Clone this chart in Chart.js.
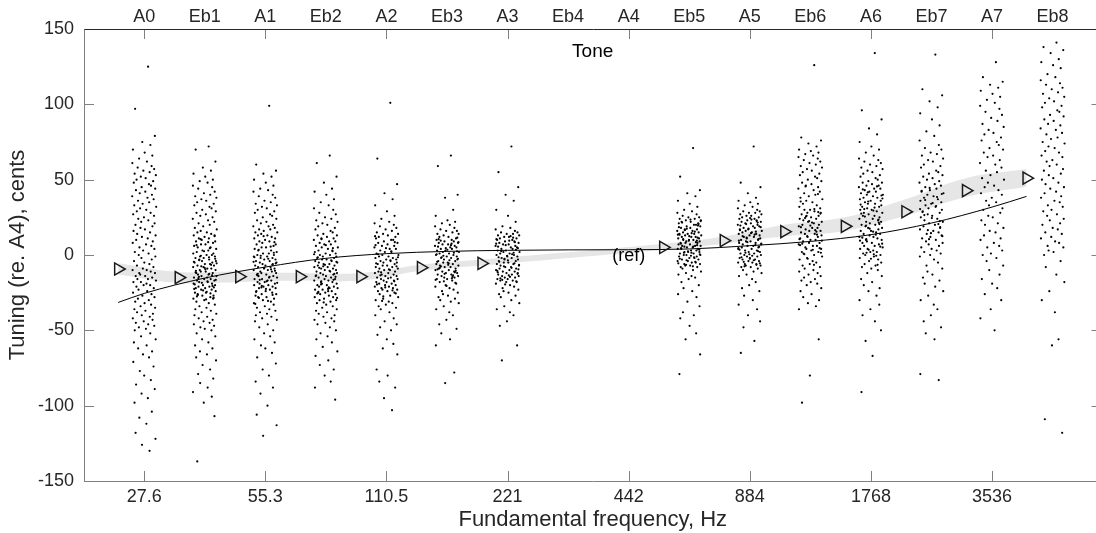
<!DOCTYPE html>
<html>
<head>
<meta charset="utf-8">
<script src="https://cdn.jsdelivr.net/npm/chart.js@4.4.1/dist/chart.umd.min.js"></script>
<style>
  html, body { margin: 0; padding: 0; background: #fff; overflow: hidden; }
  #wrap { width: 1110px; height: 533px; }
</style>
</head>
<body>
<div id="wrap"><canvas id="chart" width="1110" height="533"></canvas></div>
<script>
// Tuning of piano tones relative to A4 (442 Hz), in cents
const TONE_LABELS = ['A0', 'Eb1', 'A1', 'Eb2', 'A2', 'Eb3', 'A3', 'Eb4', 'A4', 'Eb5', 'A5', 'Eb6', 'A6', 'Eb7', 'A7', 'Eb8'];
const TONE_HZ = [27.625, 39.07, 55.25, 78.13, 110.5, 156.27, 221, 312.54, 442, 625.08, 884, 1250.2, 1768, 2500.3, 3536, 5000.6];
const TICK_HZ = [27.625, 55.25, 110.5, 221, 442, 884, 1768, 3536];
const TICK_LABELS = ['27.6', '55.3', '110.5', '221', '442', '884', '1768', '3536'];
const Y_TICKS = [-150, -100, -50, 0, 50, 100, 150];

// per-tone mean (triangles) and its band
const MEAN_TONES = ['A0', 'Eb1', 'A1', 'Eb2', 'A2', 'Eb3', 'A3', 'Eb5', 'A5', 'Eb6', 'A6', 'Eb7', 'A7', 'Eb8'];
const MEAN_CENTS = [-9.3, -15, -14.4, -14.4, -14.4, -8.4, -5.6, 5, 9.5, 15.5, 19, 28.7, 42.7, 51];
const BAND_LO = [-13, -18.6, -18, -17, -17, -10.5, -7, 3.5, 7.5, 12.4, 16, 26, 38.5, 45.3];
const BAND_HI = [-5.5, -11.3, -11, -12, -12, -6.5, -3, 7.5, 12.3, 20, 25, 37, 51, 57];

// fitted curve: start (A0 mean), A0..A7, end (Eb8 mean)
const FIT_CENTS = [-31.5, -25.5, -15.3, -8, -2.2, 0.9, 2.4, 3.1, 3.4, 3.5, 4, 6.2, 9, 13.5, 21.2, 31.8, 38.9];

// individual measurements, cents
const A0_CENTS = [125, 97, 79, 75, 73, 70, 68, 66, 64, 62, 61, 59, 58, 57, 56, 55, 54, 53, 52, 51, 50, 49, 48, 47, 46, 45, 44, 43, 42, 41, 40, 39, 38, 37, 36, 35, 34, 33, 32, 31, 30, 29, 28, 27, 26, 25, 24, 23, 22, 21, 20, 19, 18, 17, 16, 15, 14, 13, 12, 11, 10, 9, 8, 7, 6, 5, 4, 3, 2, 1, 0, -1, -2, -3, -4, -5, -6, -7, -8, -9, -10, -10, -11, -12, -12, -13, -14, -14, -15, -16, -16, -17, -18, -18, -19, -20, -20, -21, -22, -23, -24, -25, -26, -27, -28, -29, -30, -31, -32, -33, -34, -35, -36, -37, -38, -39, -40, -41, -42, -43, -44, -45, -46, -47, -48, -49, -50, -52, -54, -56, -58, -60, -62, -64, -66, -68, -71, -74, -77, -80, -83, -86, -89, -92, -95, -98, -104, -108, -112, -118, -122, -126, -130];
const EB1_CENTS = [72, 70, 62, 58, 56, 54, 52, 50, 49, 48, 46, 45, 44, 42, 41, 40, 39, 38, 37, 36, 35, 34, 33, 32, 31, 30, 29, 28, 27, 26, 25, 24, 23, 22, 21, 20, 19, 18, 17, 16, 15, 15, 14, 13, 13, 12, 11, 11, 10, 9, 9, 8, 7, 7, 6, 5, 5, 4, 3, 3, 2, 1, 1, 0, 0, -1, -1, -2, -2, -3, -3, -4, -4, -5, -5, -6, -6, -7, -7, -8, -8, -9, -9, -10, -10, -11, -11, -12, -12, -13, -13, -14, -14, -15, -15, -16, -16, -17, -17, -18, -18, -19, -19, -20, -20, -21, -21, -22, -22, -23, -23, -24, -25, -25, -26, -27, -27, -28, -29, -29, -30, -31, -32, -33, -34, -35, -36, -37, -38, -39, -40, -41, -42, -43, -44, -45, -46, -47, -48, -49, -50, -52, -54, -56, -58, -60, -62, -64, -66, -68, -70, -73, -76, -79, -82, -85, -88, -91, -94, -98, -107, -137,
  -1.5, -3.5, -5.5, -7.5, -9.5, -11.5, -13.5, -15.5, -17.5, -19.5, -21.5, -23.5, -25.5, -27.5, -29.5, -0.5, -2.5, -4.5, -6.5, -8.5, -10.5, -12.5, -14.5, -16.5, -18.5, -20.5, -22.5, -24.5, -26.5, -28.5, 2.5, 4.5, 6.5, 8.5, 10.5, 12.5];
const A1_CENTS = [99, 60, 56, 54, 52, 50, 48, 46, 44, 43, 42, 40, 39, 38, 36, 35, 34, 33, 32, 31, 30, 29, 28, 27, 26, 25, 24, 23, 22, 21, 20, 19, 19, 18, 17, 17, 16, 15, 15, 14, 13, 13, 12, 11, 11, 10, 9, 9, 8, 7, 7, 6, 5, 5, 4, 3, 3, 2, 1, 1, 0, 0, -1, -1, -2, -2, -3, -3, -4, -4, -5, -5, -6, -6, -7, -7, -8, -8, -9, -9, -10, -10, -11, -11, -12, -12, -13, -13, -14, -14, -15, -15, -16, -16, -17, -17, -18, -18, -19, -19, -20, -20, -21, -21, -22, -22, -23, -24, -24, -25, -26, -26, -27, -28, -28, -29, -30, -31, -32, -33, -34, -35, -36, -37, -38, -39, -40, -41, -42, -43, -44, -46, -48, -50, -52, -54, -56, -58, -60, -62, -65, -68, -72, -76, -80, -84, -88, -92, -100, -106, -113, -120,
  5.5, 3.5, 1.5, -0.5, -2.5, -4.5, -6.5, -8.5, -10.5, -12.5, -14.5, -16.5, -18.5, -20.5, -22.5, -24.5, -26.5, -28.5, -30.5, -32.5, 8.5, 12.5, -9.5, -13.5, -17.5, -21.5, -5.5, -1.5];
const EB2_CENTS = [66, 61, 52, 48, 44, 42, 40, 37, 35, 33, 31, 30, 28, 27, 25, 24, 23, 22, 21, 20, 19, 18, 17, 16, 15, 14, 13, 13, 12, 11, 11, 10, 9, 9, 8, 7, 7, 6, 5, 5, 4, 3, 3, 2, 1, 1, 0, 0, -1, -1, -2, -2, -3, -3, -4, -4, -5, -5, -6, -6, -7, -7, -8, -8, -9, -9, -10, -10, -11, -11, -12, -12, -13, -13, -14, -14, -15, -15, -16, -16, -17, -17, -18, -18, -19, -19, -20, -20, -21, -21, -22, -22, -23, -23, -24, -24, -25, -25, -26, -26, -27, -28, -28, -29, -30, -30, -31, -32, -33, -34, -35, -36, -37, -38, -39, -40, -41, -42, -43, -44, -45, -46, -48, -50, -52, -54, -56, -58, -61, -64, -67, -70, -73, -76, -80, -84, -88, -96,
  10.5, 6.5, 2.5, -1.5, -4.5, -7.5, -10.5, -13.5, -16.5, -19.5, -22.5, -25.5, -28.5, -31.5, -3.5, -8.5, -12.5, -17.5, -21.5, 0.5, 4.5, -6.5, -14.5, -24.5];
const A2_CENTS = [101, 64, 47, 41, 37, 33, 29, 26, 24, 22, 21, 20, 19, 18, 17, 16, 15, 14, 14, 13, 12, 12, 11, 10, 10, 9, 8, 8, 7, 6, 6, 5, 4, 4, 3, 2, 2, 1, 0, 0, -1, -1, -2, -2, -3, -3, -4, -4, -5, -5, -6, -6, -7, -7, -8, -8, -9, -9, -10, -10, -11, -11, -12, -12, -13, -13, -14, -14, -15, -15, -16, -16, -17, -17, -18, -18, -19, -19, -20, -20, -21, -21, -22, -22, -23, -23, -24, -24, -25, -26, -27, -28, -29, -30, -31, -32, -33, -34, -35, -36, -38, -40, -42, -44, -46, -48, -50, -53, -56, -59, -62, -66, -76, -80, -84, -88, -95, -103,
  12.5, 8.5, 4.5, 0.5, -3.5, -7.5, -11.5, -15.5, -19.5, -23.5, -27.5, -1.5, -5.5, -9.5, -13.5, -17.5, -21.5, 2.5, 6.5, -25.5, -30.5];
const EB3_CENTS = [66, 59, 40, 38, 30, 26, 23, 22, 21, 20, 19, 18, 17, 16, 16, 15, 14, 14, 13, 12, 12, 11, 10, 10, 9, 9, 8, 8, 7, 7, 6, 6, 5, 5, 4, 4, 3, 3, 2, 2, 1, 1, 0, 0, -1, -1, -2, -2, -3, -3, -4, -4, -5, -5, -6, -6, -7, -7, -8, -8, -9, -9, -10, -10, -11, -11, -12, -12, -13, -13, -14, -14, -15, -15, -16, -16, -17, -18, -19, -20, -21, -22, -23, -24, -25, -26, -27, -28, -29, -30, -31, -32, -34, -36, -38, -40, -43, -46, -49, -52, -56, -60, -78, -85,
  11.5, 9.5, 7.5, 5.5, 3.5, 1.5, -0.5, -2.5, -4.5, -6.5, -8.5, -10.5, -12.5, -14.5, -16.5, -18.5, -20.5, 10.5, 6.5, 2.5, -1.5, -5.5, -9.5, -13.5, -17.5, 8.5, 0.5, -3.5, -7.5, -11.5, 4.5, -15.5];
const A3_CENTS = [72, 55, 45, 40, 36, 30, 26, 22, 19, 18, 17, 16, 15, 15, 14, 14, 13, 13, 12, 12, 11, 11, 10, 10, 9, 9, 8, 8, 7, 7, 6, 6, 5, 5, 4, 4, 3, 3, 2, 2, 1, 1, 0, 0, -1, -1, -2, -2, -3, -3, -4, -4, -5, -5, -6, -6, -7, -7, -8, -8, -9, -9, -10, -10, -11, -11, -12, -12, -13, -13, -14, -14, -15, -15, -16, -16, -17, -17, -18, -18, -19, -20, -21, -22, -23, -24, -25, -26, -27, -28, -30, -32, -34, -36, -38, -40, -44, -47, -60, -70,
  12.5, 10.5, 8.5, 6.5, 4.5, 2.5, 0.5, -1.5, -3.5, -5.5, -7.5, -9.5, -11.5, -13.5, -15.5, -17.5, -19.5, 11.5, 7.5, 3.5, -0.5, -4.5, -8.5, -12.5, -16.5, 9.5, 5.5, 1.5, -2.5, -6.5, -10.5, -14.5];
const EB5_CENTS = [71, 52, 43, 41, 39, 36, 34, 32, 30, 29, 28, 27, 26, 25, 25, 24, 24, 23, 23, 22, 22, 21, 21, 20, 20, 19, 19, 18, 18, 17, 17, 16, 16, 15, 15, 14, 14, 14, 13, 13, 12, 12, 12, 11, 11, 10, 10, 10, 9, 9, 8, 8, 8, 7, 7, 6, 6, 6, 5, 5, 4, 4, 4, 3, 3, 2, 2, 2, 1, 1, 0, 0, 0, -1, -1, -2, -2, -3, -3, -4, -4, -5, -5, -6, -6, -7, -7, -8, -8, -9, -10, -11, -12, -13, -14, -15, -16, -18, -20, -22, -24, -26, -28, -31, -34, -38, -40, -42, -47, -52, -56, -66, -79,
  23.5, 21.5, 19.5, 17.5, 15.5, 13.5, 11.5, 9.5, 7.5, 5.5, 3.5, 1.5, -0.5, -2.5, -4.5, -6.5, 22.5, 18.5, 14.5, 10.5, 6.5, 2.5, -1.5, -5.5, 20.5, 16.5, 12.5, 8.5, 4.5, 0.5, -3.5, -7.5, 13.5, 9.5, 5.5, 1.5];
const A5_CENTS = [72, 48, 45, 41, 38, 36, 35, 34, 33, 32, 31, 30, 29, 29, 28, 28, 27, 27, 26, 26, 25, 25, 24, 24, 23, 23, 22, 22, 21, 21, 20, 20, 19, 19, 18, 18, 17, 17, 16, 16, 15, 15, 14, 14, 13, 13, 12, 12, 11, 11, 10, 10, 9, 9, 8, 8, 7, 7, 6, 6, 5, 5, 4, 4, 3, 3, 2, 2, 1, 1, 0, 0, -1, -1, -2, -2, -3, -3, -4, -4, -5, -5, -6, -6, -7, -7, -8, -8, -9, -10, -11, -12, -13, -14, -16, -18, -20, -22, -24, -27, -30, -33, -36, -40, -44, -48, -57, -65,
  24.5, 22.5, 20.5, 18.5, 16.5, 14.5, 12.5, 10.5, 8.5, 6.5, 4.5, 2.5, 0.5, -1.5, -3.5, -5.5, -7.5, 23.5, 19.5, 15.5, 11.5, 7.5, 3.5, -0.5, -4.5, 21.5, 17.5, 13.5, 9.5, 5.5, 1.5, -2.5, -6.5];
const EB6_CENTS = [126, 78, 76, 74, 72, 70, 69, 68, 67, 66, 65, 64, 63, 62, 61, 60, 59, 58, 57, 56, 55, 54, 53, 52, 51, 50, 49, 48, 47, 46, 45, 44, 43, 42, 41, 40, 39, 38, 37, 36, 35, 34, 33, 32, 31, 30, 30, 29, 28, 28, 27, 26, 26, 25, 24, 24, 23, 22, 22, 21, 20, 20, 19, 18, 18, 17, 16, 16, 15, 14, 14, 13, 12, 12, 11, 10, 10, 9, 8, 8, 7, 6, 6, 5, 4, 4, 3, 2, 2, 1, 0, -1, -2, -3, -4, -5, -6, -7, -8, -9, -10, -11, -12, -13, -14, -15, -16, -17, -18, -19, -20, -22, -24, -26, -28, -30, -32, -34, -36, -56, -80, -98,
  30.5, 27.5, 24.5, 21.5, 18.5, 15.5, 12.5, 9.5, 6.5, 3.5, 0.5, 28.5, 22.5, 16.5, 10.5, 4.5, 25.5, 19.5, 13.5, 7.5, 1.5, -2.5, -6.5, 35.5, 40.5, 45.5];
const A6_CENTS = [134, 96, 90, 84, 80, 75, 72, 70, 68, 66, 64, 63, 62, 61, 60, 59, 58, 57, 56, 55, 54, 53, 52, 51, 50, 49, 48, 48, 47, 46, 46, 45, 44, 44, 43, 42, 42, 41, 40, 40, 39, 38, 38, 37, 36, 36, 35, 34, 34, 33, 32, 32, 31, 30, 30, 29, 28, 28, 27, 26, 26, 25, 24, 24, 23, 22, 22, 21, 20, 20, 19, 18, 18, 17, 16, 16, 15, 14, 14, 13, 12, 12, 11, 10, 10, 9, 8, 8, 7, 6, 6, 5, 4, 4, 3, 2, 2, 1, 0, 0, -1, -2, -3, -4, -5, -6, -7, -8, -9, -10, -12, -14, -16, -18, -20, -22, -24, -27, -30, -33, -36, -40, -44, -50, -57, -67, -91,
  45.5, 41.5, 37.5, 33.5, 29.5, 25.5, 21.5, 17.5, 13.5, 9.5, 5.5, 1.5, -2.5, -6.5, 43.5, 39.5, 35.5, 31.5, 27.5, 23.5, 19.5, 15.5, 11.5, 7.5, 3.5, -0.5, 30.5, 20.5, 10.5, 0.5];
const EB7_CENTS = [133, 110, 106, 102, 98, 94, 90, 86, 82, 79, 76, 73, 71, 70, 68, 67, 66, 64, 63, 62, 60, 59, 58, 56, 55, 54, 53, 52, 51, 50, 49, 48, 47, 46, 45, 44, 43, 42, 41, 40, 39, 38, 37, 36, 35, 34, 33, 32, 31, 30, 29, 28, 27, 26, 25, 24, 23, 22, 21, 20, 19, 18, 17, 16, 15, 14, 13, 12, 11, 10, 9, 8, 7, 6, 5, 4, 3, 2, 1, 0, -1, -3, -5, -7, -9, -11, -13, -15, -17, -19, -21, -24, -27, -30, -33, -36, -40, -44, -48, -52, -56, -79, -83,
  44.5, 40.5, 36.5, 32.5, 28.5, 24.5, 20.5, 16.5, 12.5, 42.5, 34.5, 26.5, 18.5, 10.5, 38.5, 30.5, 22.5, 14.5];
const A7_CENTS = [128, 118, 115, 113, 111, 109, 107, 105, 103, 101, 99, 97, 95, 93, 91, 89, 87, 85, 83, 81, 80, 78, 76, 75, 73, 71, 70, 68, 66, 65, 63, 61, 60, 58, 56, 55, 53, 51, 50, 48, 46, 45, 43, 41, 40, 38, 36, 35, 33, 31, 30, 28, 26, 25, 23, 21, 20, 18, 16, 15, 13, 11, 10, 8, 6, 5, 3, 1, 0, -2, -4, -7, -10, -13, -16, -19, -22, -26, -30, -36, -42, -50];
const EB8_CENTS = [141, 138, 136, 134, 130, 128, 126, 124, 120, 118, 116, 114, 113, 111, 110, 108, 107, 105, 104, 102, 101, 99, 98, 96, 95, 93, 92, 90, 89, 87, 86, 84, 83, 81, 80, 78, 77, 75, 74, 72, 71, 69, 68, 66, 65, 63, 62, 60, 59, 57, 56, 54, 53, 51, 50, 48, 47, 45, 44, 42, 41, 39, 38, 36, 35, 33, 32, 30, 29, 27, 26, 24, 23, 21, 20, 18, 17, 15, 14, 12, 11, 9, 8, 6, 5, 3, 2, 0, -4, -8, -13, -18, -24, -30, -38, -56, -60, -109, -118];

// horizontal spread of the dots around each tone, in 1/100 octave
const JITTER = [
  3.2, -7.5, 8.8, -1.6, 5.1, -9.3, 0.4, 6.7, -4.2, 2.3, -9.8, 6.1, -5.4, 8.2, -0.7, 4.5, -7.9, 9.6, -2.8, 1.2,
  -6.3, 7.4, -8.6, 3.9, 5.6, -2.1, 9.1, -6.8, 0.9, -3.7, 6.4, -9.9, 2.7, 7.8, -5.1, 4.1, -1.3, -8.2, 9.9, -3.4,
  1.7, -6.1, 5.3, -9.1, 8.1, -0.2, -4.9, 3.4, -2.5, 8.6, -7.2, 6.8, -3.1, 0.6, -8.8, 4.8, -5.8, 9.4, -1.9, 2.9,
  -6.6, 7.1, -9.5, 1.5, 5.9, -3.9, 8.4, -0.9, -7.7, 3.6, -4.5, 9.2, -2.3, 6.2, -8.4, 0.1, 4.3, -6.0, 7.6, -1.1,
  -9.6, 2.1, 5.4, -4.1, 8.9, -3.3, 0.8, -7.0, 6.6, -5.6, 3.1, 9.7, -2.7, -8.9, 1.9, 4.9, -0.5, -6.4, 7.9, -4.7,
  2.5, -9.2, 6.0, -1.5, 8.5, -5.2, 3.8, -7.4, 0.3, 5.7, -3.0, 9.0, -8.1, 1.0, -5.9, 7.2, -2.0, 4.6, -9.4, 6.9,
  -0.4, -6.9, 3.3, 8.3, -4.4, 1.4, -7.8, 5.0, -2.6, 9.5, -8.5, 2.0, -5.0, 6.5, -1.0, 4.0, -9.0, 7.7, -3.6, 0.0,
  5.5, -6.7, 8.7, -2.2, 3.0, -8.0, 6.3, -4.0, 1.8, -7.1, 9.3, -1.8, 4.4, -5.5, 7.0, -3.8, 2.4, -9.7, 5.8, -0.8,
  8.0, -6.2, 3.5, -4.6, 9.8, -2.9, 0.5, -7.6, 6.0, -5.3, 2.2, -8.3, 7.5, -1.4, 4.7, -6.5, 1.1, -3.2, 8.6, -9.0,
  5.2, -0.1, -7.3, 3.7, -4.8, 9.1, -2.4, 6.4, -8.7, 1.6, -5.7, 7.3, -0.6, 4.2, -6.8, 2.8, -3.5, 8.1, -9.3, 5.0,
  -2.2, 7.9, -5.1, 0.7, 9.4, -8.0, 3.9, -3.3, 6.6, -9.6, 1.3, -6.4, 8.8, -0.3, 4.9, -7.2, 2.6, -4.3, 9.9, -1.7
];

const CLUSTERS = [
  ['A0', A0_CENTS], ['Eb1', EB1_CENTS], ['A1', A1_CENTS], ['Eb2', EB2_CENTS],
  ['A2', A2_CENTS], ['Eb3', EB3_CENTS], ['A3', A3_CENTS], ['Eb5', EB5_CENTS],
  ['A5', A5_CENTS], ['Eb6', EB6_CENTS], ['A6', A6_CENTS], ['Eb7', EB7_CENTS],
  ['A7', A7_CENTS], ['Eb8', EB8_CENTS]
];

const MEAN_SHIFT = Math.pow(2, -0.215); // means are drawn a bit left of the tone
const FONT = '"Liberation Sans", Arial, Helvetica, sans-serif';
const hzOf = t => TONE_HZ[TONE_LABELS.indexOf(t)];

const dots = [];
CLUSTERS.forEach(([tone, vals]) => {
  const f = hzOf(tone);
  vals.forEach((c, i) => dots.push({ x: f * Math.pow(2, JITTER[i % JITTER.length] / 100), y: c }));
});

const meanHz = MEAN_TONES.map(t => hzOf(t) * MEAN_SHIFT);
const means = meanHz.map((x, i) => ({ x, y: MEAN_CENTS[i] }));
const bandLo = meanHz.map((x, i) => ({ x, y: BAND_LO[i] }));
const bandHi = meanHz.map((x, i) => ({ x, y: BAND_HI[i] }));

const fitHz = [hzOf('A0') * MEAN_SHIFT].concat(TONE_HZ.slice(0, 15), [hzOf('Eb8') * MEAN_SHIFT]);
const fit = fitHz.map((x, i) => ({ x, y: FIT_CENTS[i] }));

// inward ticks, box and the two in-plot labels
const framePlugin = {
  id: 'frame',
  afterDraw(chart) {
    const { ctx, chartArea: a, scales } = chart;
    const seg = (x1, y1, x2, y2) => { ctx.beginPath(); ctx.moveTo(x1, y1); ctx.lineTo(x2, y2); ctx.stroke(); };
    ctx.save();
    ctx.lineWidth = 1;
    ctx.strokeStyle = '#808080';
    TICK_HZ.forEach(v => {
      const x = Math.round(scales.x.getPixelForValue(v)) + 0.5;
      seg(x, a.bottom, x, a.bottom - 10);
      seg(x, a.top, x, a.top + 10);
    });
    Y_TICKS.forEach(v => {
      const y = Math.round(scales.y.getPixelForValue(v)) + 0.5;
      seg(a.left, y, a.left + 10, y);
      seg(a.right, y, a.right - 10, y);
    });
    const L = Math.round(a.left) + 0.5, R = Math.round(a.right) + 0.5;
    const T = Math.round(a.top) + 0.5, B = Math.round(a.bottom) + 0.5;
    seg(L, T, L, B);
    seg(L, B, R, B);
    ctx.strokeStyle = '#262626';
    seg(L, T, R, T);
    seg(R, T, R, B);

    ctx.fillStyle = '#000';
    ctx.textAlign = 'center';
    ctx.textBaseline = 'middle';
    ctx.font = '19px ' + FONT;
    ctx.fillText('Tone', scales.x.getPixelForValue(hzOf('A4')) - 36, a.top + 23);
    ctx.font = '18px ' + FONT;
    ctx.fillText('(ref)', scales.x.getPixelForValue(hzOf('A4')), scales.y.getPixelForValue(0) + 1);
    ctx.restore();
  }
};

const logAxis = (position, ticks, labels, padding) => ({
  type: 'logarithmic',
  position: position,
  min: 19.574,
  max: 6616,
  afterBuildTicks: s => { s.ticks = ticks.map(v => ({ value: v })); },
  afterFit: s => { s.height = position === 'top' ? 29 : 52; },
  grid: { display: false, drawTicks: false },
  border: { display: false },
  ticks: {
    autoSkip: false,
    maxRotation: 0,
    minRotation: 0,
    padding: padding,
    color: '#262626',
    font: { family: FONT, size: 18 },
    callback: (v, i) => labels[i]
  }
});

const xBottom = logAxis('bottom', TICK_HZ, TICK_LABELS, 5);
xBottom.title = {
  display: true,
  text: 'Fundamental frequency, Hz',
  color: '#262626',
  font: { family: FONT, size: 22 },
  padding: { top: 0, bottom: 0 }
};

new Chart(document.getElementById('chart').getContext('2d'), {
  type: 'scatter',
  data: {
    datasets: [
      {
        type: 'scatter', data: means, order: 1,
        pointStyle: 'triangle', rotation: 90, pointRadius: 7,
        backgroundColor: 'rgba(0,0,0,0)', borderColor: '#1a1a1a', borderWidth: 1.5
      },
      {
        type: 'line', data: fit, order: 2,
        borderColor: '#000', borderWidth: 1, pointRadius: 0, fill: false,
        cubicInterpolationMode: 'monotone'
      },
      {
        type: 'scatter', data: dots, order: 3,
        pointRadius: 1.1, backgroundColor: '#000', borderWidth: 0
      },
      {
        type: 'line', data: bandLo, order: 5,
        borderWidth: 0, pointRadius: 0, fill: false, tension: 0.4
      },
      {
        type: 'line', data: bandHi, order: 4,
        borderWidth: 0, pointRadius: 0, fill: '-1', tension: 0.4,
        backgroundColor: '#e6e6e6'
      }
    ]
  },
  options: {
    responsive: false,
    animation: false,
    devicePixelRatio: 1,
    layout: { padding: { left: 0, right: 7, top: 0, bottom: 0 } },
    plugins: { legend: { display: false }, tooltip: { enabled: false } },
    scales: {
      x: xBottom,
      x2: logAxis('top', TONE_HZ, TONE_LABELS, 1),
      y: {
        type: 'linear',
        min: -150,
        max: 150,
        afterBuildTicks: s => { s.ticks = Y_TICKS.map(v => ({ value: v })); },
        afterFit: s => { s.width = 84; },
        grid: { display: false, drawTicks: false },
        border: { display: false },
        ticks: {
          padding: 10,
          color: '#262626',
          font: { family: FONT, size: 18 },
          callback: v => String(v)
        },
        title: {
          display: true,
          text: 'Tuning (re. A4), cents',
          color: '#262626',
          font: { family: FONT, size: 22 },
          padding: { top: 5, bottom: 0 }
        }
      }
    }
  },
  plugins: [framePlugin]
});
</script>
</body>
</html>
